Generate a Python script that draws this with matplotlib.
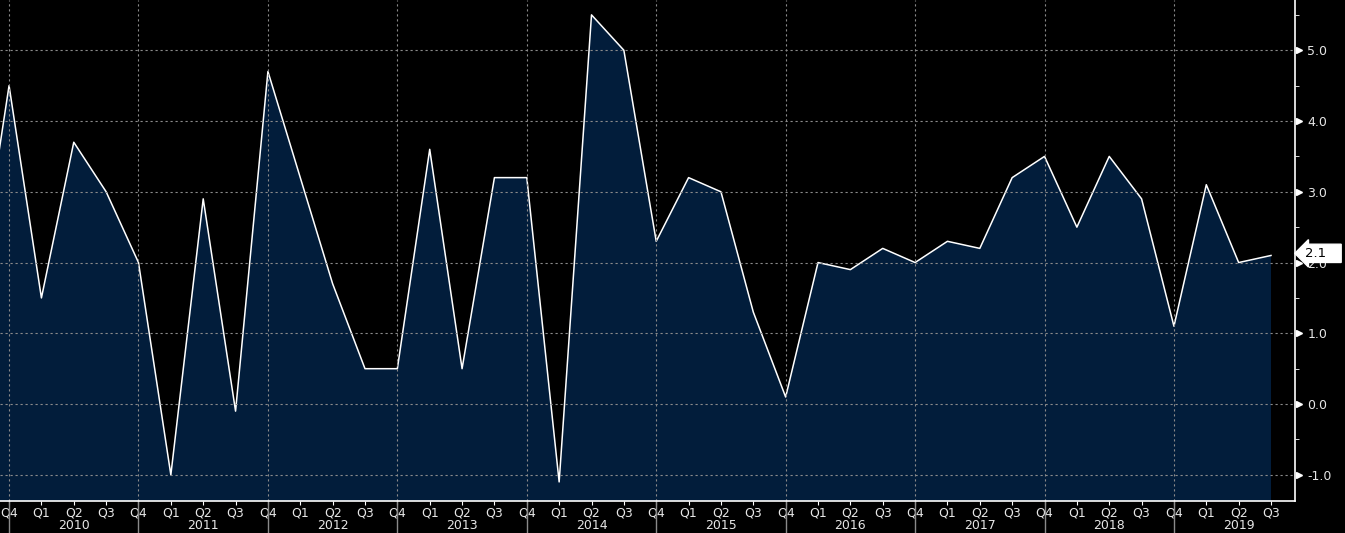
import numpy as np
import matplotlib
matplotlib.use("Agg")
import matplotlib.pyplot as plt
import matplotlib.transforms as mtransforms

# quarterly values, Q3 2009 .. Q3 2019
quarters = ["Q3", "Q4"] + ["Q1", "Q2", "Q3", "Q4"] * 9 + ["Q1", "Q2", "Q3"]
years = [str(y) for y in range(2010, 2020)]
values = [1.5, 4.5,
          1.5, 3.7, 3.0, 2.0,
          -1.0, 2.9, -0.1, 4.7,
          3.2, 1.7, 0.5, 0.5,
          3.6, 0.5, 3.2, 3.2,
          -1.1, 5.5, 5.0, 2.3,
          3.2, 3.0, 1.3, 0.1,
          2.0, 1.9, 2.2, 2.0,
          2.3, 2.2, 3.2, 3.5,
          2.5, 3.5, 2.9, 1.1,
          3.1, 2.0, 2.1]
yticks = [-1.0, 0.0, 1.0, 2.0, 3.0, 4.0, 5.0]

x = np.arange(len(values))
txt = "#e6e6e6"

fig = plt.figure(figsize=(13.45, 5.33), dpi=100, facecolor="black")
ax = fig.add_axes([0.0, 0.06, 0.9628, 0.94])
ax.set_facecolor("black")

ax.fill_between(x, values, -5, color="#021d3b", lw=0)
ax.plot(x, values, color="white", lw=1.1)

# grid
for yv in yticks:
    ax.axhline(yv, color="#8a8a8a", lw=0.8, ls=(0, (2, 2.5)))
q4_idx = [i for i, q in enumerate(quarters) if q == "Q4"]
for xi in q4_idx:
    ax.axvline(xi, color="#8a8a8a", lw=0.8, ls=(0, (2, 2.5)))

# axes / spines
for s in ["top", "left"]:
    ax.spines[s].set_visible(False)
ax.spines["right"].set_color("white")
ax.spines["bottom"].set_color("white")
ax.spines["right"].set_linewidth(1.2)
ax.spines["bottom"].set_linewidth(1.2)

ax.yaxis.tick_right()
ax.set_yticks(yticks)
ax.set_yticklabels([f"{v:.1f}" for v in yticks], color=txt, fontsize=9)
ax.tick_params(axis="y", length=0, pad=9)
ax.set_yticks(np.arange(-1.0, 5.6, 0.5), minor=True)
ax.tick_params(axis="y", which="minor", length=3, color="white", right=True)

trans_y = mtransforms.blended_transform_factory(ax.transAxes, ax.transData)
ax.plot([1.0035] * len(yticks), yticks, ls="none", marker=">", ms=5,
        color="white", transform=trans_y, clip_on=False)

ax.set_xticks(x[1:])
ax.set_xticklabels(quarters[1:], color=txt, fontsize=9)
ax.tick_params(axis="x", length=3, color="white", pad=1)

ax.set_xlim(0.72, 40.74)
ax.set_ylim(-1.37, 5.71)

# year separators and labels
trans_x = mtransforms.blended_transform_factory(ax.transData, ax.transAxes)
for xi in q4_idx:
    ax.plot([xi, xi], [0, -0.07], color="#8a8a8a", lw=1, transform=trans_x,
            clip_on=False)
for k, yr in enumerate(years):
    ax.text(q4_idx[k] + 2, -0.048, yr, color=txt, fontsize=9, ha="center",
            va="center", transform=trans_x)

# last value tag
ax.text(1.0075, values[-1] + 0.03, f"{values[-1]:.1f}   ", transform=trans_y,
        fontsize=9.5, color="black", va="center", ha="left",
        bbox=dict(boxstyle="larrow,pad=0.2", fc="white", ec="white"),
        clip_on=False, zorder=5)

fig.savefig("out.png", dpi=100, facecolor="black")
